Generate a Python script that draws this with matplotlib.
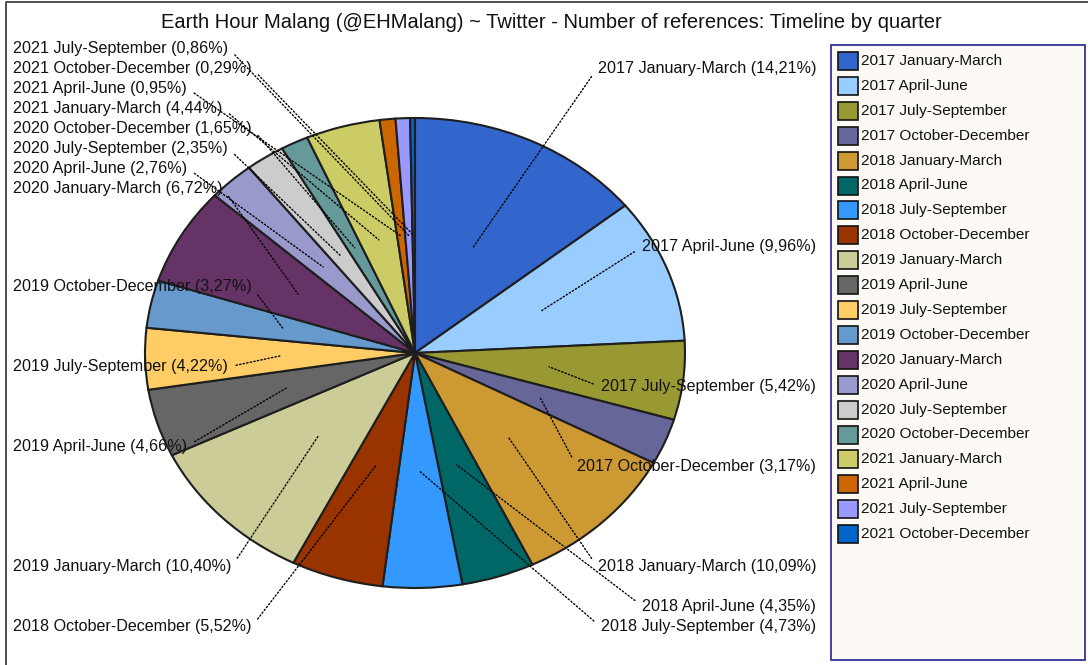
import numpy as np
import matplotlib
matplotlib.use("Agg")
import matplotlib.pyplot as plt
from matplotlib.patches import Rectangle

plt.rcParams['font.family'] = ['Liberation Sans', 'DejaVu Sans']

# ---- data ----
quarters = [
    "2017 January-March", "2017 April-June", "2017 July-September", "2017 October-December",
    "2018 January-March", "2018 April-June", "2018 July-September", "2018 October-December",
    "2019 January-March", "2019 April-June", "2019 July-September", "2019 October-December",
    "2020 January-March", "2020 April-June", "2020 July-September", "2020 October-December",
    "2021 January-March", "2021 April-June", "2021 July-September", "2021 October-December",
]
shares = [14.21, 9.96, 5.42, 3.17,
          10.09, 4.35, 4.73, 5.52,
          10.40, 4.66, 4.22, 3.27,
          6.72, 2.76, 2.35, 1.65,
          4.44, 0.95, 0.86, 0.29]
colors = ["#3366CC", "#99CCFF", "#999933", "#666699",
          "#CC9933", "#006666", "#3399FF", "#993300",
          "#CCCC99", "#666666", "#FFCC66", "#6699CC",
          "#663366", "#9999CC", "#CCCCCC", "#669999",
          "#CCCC66", "#CC6600", "#9999FF", "#0066CC"]
title = "Earth Hour Malang (@EHMalang) ~ Twitter - Number of references: Timeline by quarter"

# label placement (layout): side, y pixel from top
label_layout = [("r", 68), ("r", 247), ("r", 387), ("r", 467),
                ("r", 567), ("r", 606), ("r", 627), ("l", 627),
                ("l", 567), ("l", 446), ("l", 367), ("l", 287),
                ("l", 188), ("l", 168), ("l", 148), ("l", 128),
                ("l", 108), ("l", 88), ("l", 48), ("l", 68)]

W, H = 1088, 665
fig = plt.figure(figsize=(W / 100, H / 100), dpi=100)
fig.patch.set_facecolor("white")

# overlay axes in pixel coordinates
ov = fig.add_axes([0, 0, 1, 1], zorder=0)
ov.set_xlim(0, W)
ov.set_ylim(H, 0)
ov.axis("off")

# pie axes (ellipse)
cx, cy, rx, ry = 415, 353, 270, 235
pax = fig.add_axes([(cx - rx) / W, (H - (cy + ry)) / H, 2 * rx / W, 2 * ry / H], zorder=1)
wedges, _ = pax.pie(shares, colors=colors, startangle=90, counterclock=False,
                    radius=1.0,
                    wedgeprops=dict(edgecolor="#1e1e1e", linewidth=1.5))
pax.set_aspect("auto")
pax.set_xlim(-1, 1)
pax.set_ylim(-1, 1)
pax.axis("off")

# frame lines
ov.plot([6, 6, W], [H, 2, 2], color="#333333", lw=1.2, solid_capstyle="butt")

# title
ov.text(551.5, 23, title, ha="center", va="center", fontsize=14.5, color="#111111")

# labels with dotted leaders
total = sum(shares)
cum = np.cumsum([0] + shares[:-1])
for i, (q, v) in enumerate(zip(quarters, shares)):
    mid = (cum[i] + v / 2) / total * 2 * np.pi
    ax_, ay_ = 0.5 * np.sin(mid), 0.5 * np.cos(mid)
    side, ypix = label_layout[i]
    txt = f"{q} ({v:.2f}".replace(".", ",") + "%)"
    if side == "r":
        xpix, ha, rel = 816, "right", (0.0, 0.5)
    else:
        xpix, ha, rel = 13, "left", (1.0, 0.5)
    pax.annotate(txt, xy=(ax_, ay_), xycoords="data",
                 xytext=(xpix, H - ypix), textcoords="figure pixels",
                 ha=ha, va="center", fontsize=11.65, color="#111111",
                 annotation_clip=False,
                 arrowprops=dict(arrowstyle="-", color="#000000", lw=1.0,
                                 linestyle=(0, (1, 1.6)), relpos=rel,
                                 shrinkA=4, shrinkB=0))

# legend
ov.add_patch(Rectangle((831, 45), 254, 615, facecolor="#FDFAF5",
                       edgecolor="#333399", lw=1.3, zorder=2))
for i, (q, c) in enumerate(zip(quarters, colors)):
    y = 61 + i * 24.9
    ov.add_patch(Rectangle((838, y - 9), 20, 18, facecolor=c,
                           edgecolor="#111111", lw=1.2, zorder=3))
    ov.text(861, y, q, ha="left", va="center", fontsize=11.1,
            color="#111111", zorder=3)

fig.savefig("out.png", dpi=100)
